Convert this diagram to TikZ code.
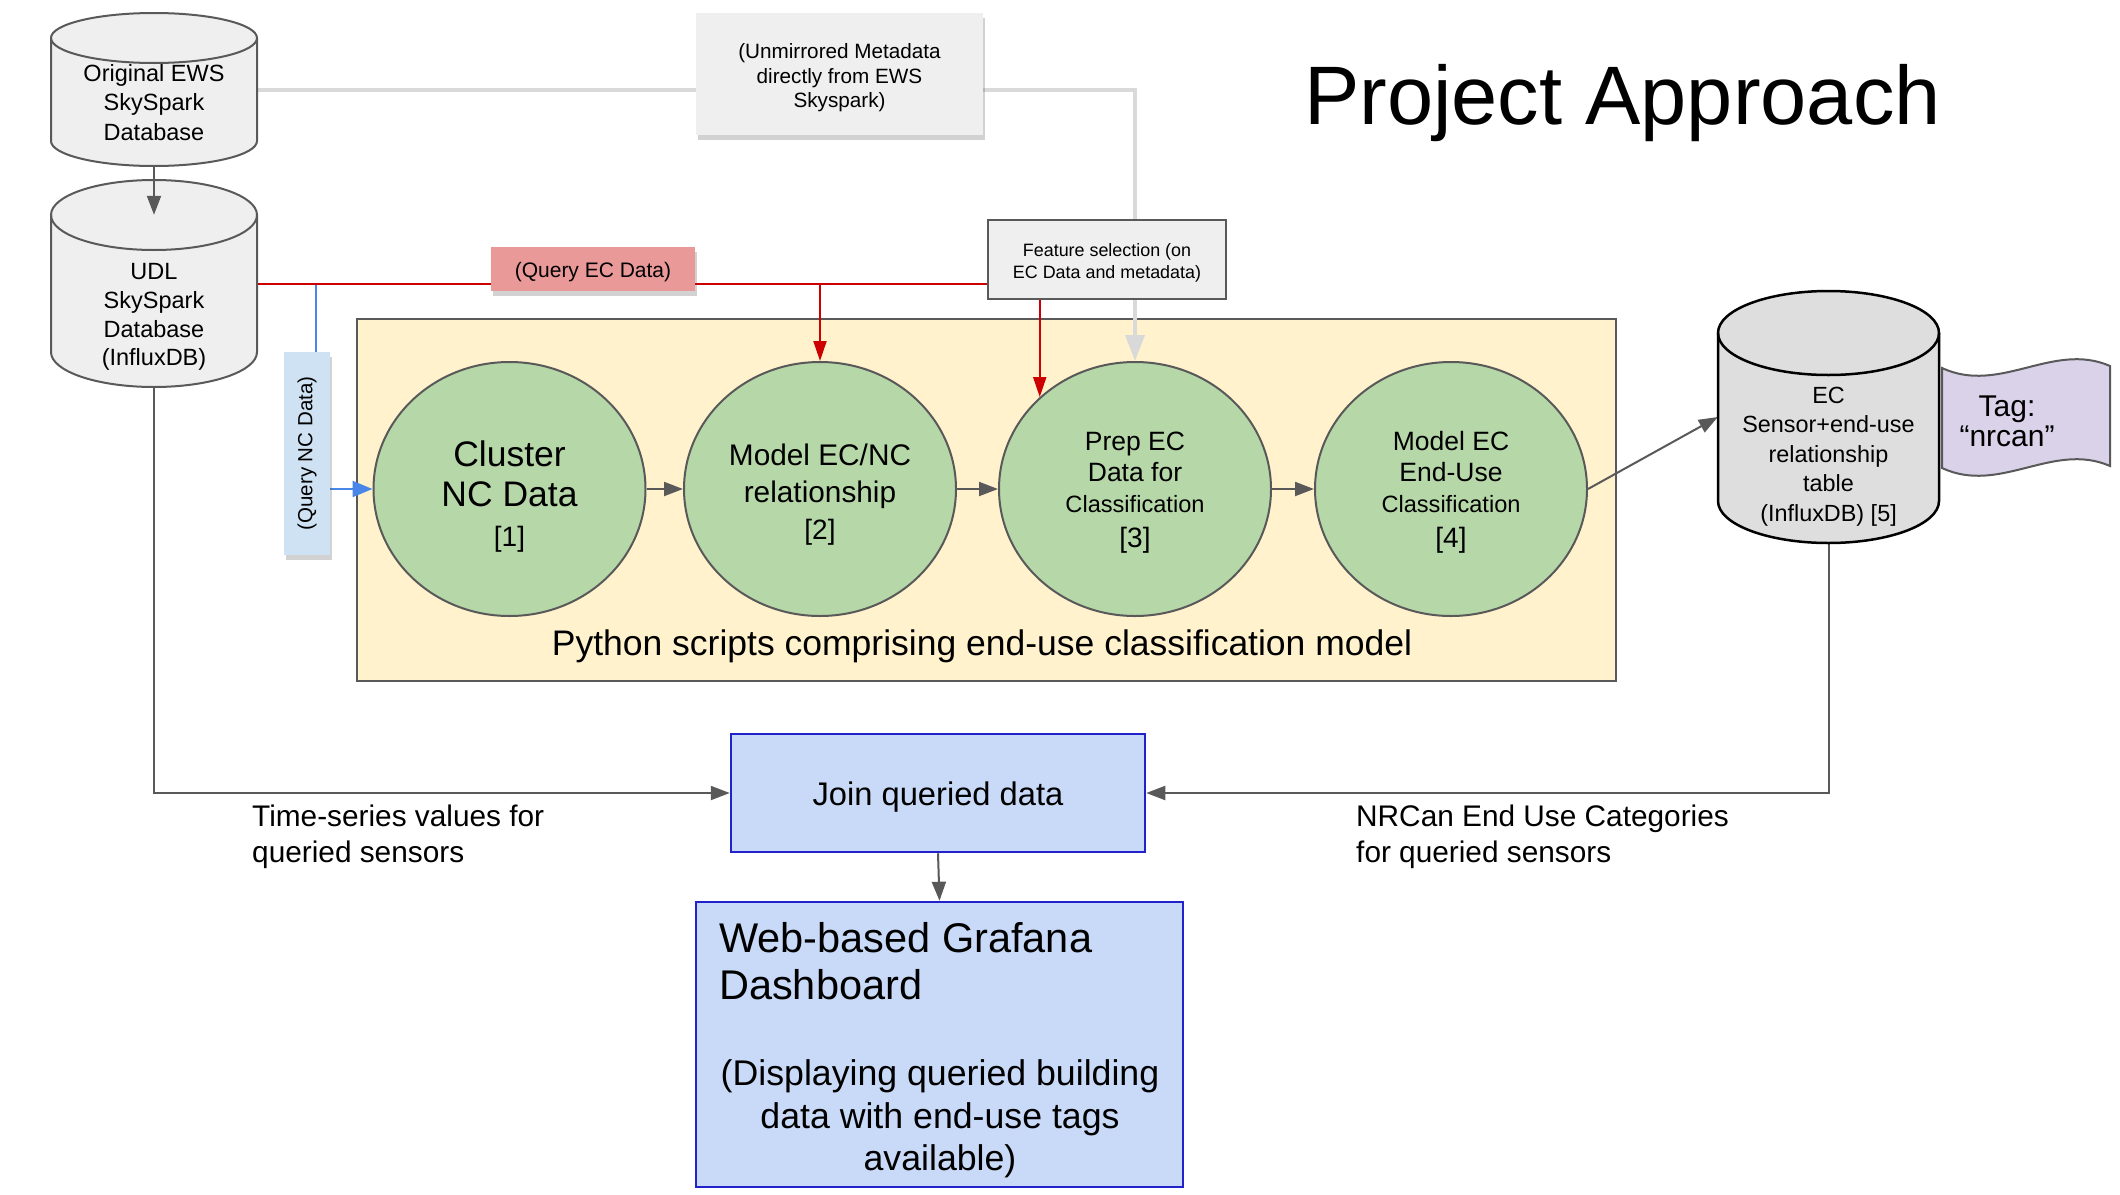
\documentclass[tikz,border=0pt]{standalone}
\usepackage{fontspec}
\setmainfont{Liberation Sans}
\usetikzlibrary{arrows.meta,shapes.geometric,shadows,calc}
\definecolor{dg}{HTML}{595959}
\definecolor{lg}{HTML}{EFEFEF}
\definecolor{cylg}{HTML}{DEDEDE}
\definecolor{mgl}{HTML}{D9D9D9}
\definecolor{redc}{HTML}{CC0000}
\definecolor{bluec}{HTML}{4A86E8}
\definecolor{bub}{HTML}{B6D7A8}
\definecolor{cont}{HTML}{FFF2CC}
\definecolor{bbf}{HTML}{C9DAF8}
\definecolor{bbd}{HTML}{2222CC}
\definecolor{pinkf}{HTML}{EA9999}
\definecolor{bluef}{HTML}{CFE2F3}
\definecolor{lav}{HTML}{D9D2E9}
\pgfdeclarelayer{back}
\pgfdeclarelayer{lines}
\pgfsetlayers{back,lines,main}
\newcommand\myfs[2]{\fontsize{#1}{#2}\selectfont}
\newcommand\lift[1]{\rule{0pt}{#1pt}}
\newcommand\dbcyl[6]{%
  \pgfmathsetmacro\cylrx{(#3-#1)/2}%
  \path[#6] (#1,#2+#5) -- (#1,#4-#5)
     arc[start angle=180,end angle=360,x radius=\cylrx pt,y radius=#5pt]
     -- (#3,#2+#5)
     arc[start angle=0,end angle=180,x radius=\cylrx pt,y radius=#5pt] -- cycle;
  \path[#6,fill=none] (#1,#2+#5)
     arc[start angle=180,end angle=360,x radius=\cylrx pt,y radius=#5pt];
}
\tikzset{
  txt/.style={inner sep=0pt, align=center, text=black},
  shadowed/.style={drop shadow={shadow xshift=1.5pt, shadow yshift=-4.5pt, opacity=0.25, fill=black!70}},
  bubble/.style={ellipse, draw=dg, line width=2pt, fill=bub, minimum width=272pt, minimum height=254pt, inner sep=0pt, align=center},
  container/.style={draw=dg, line width=2.5pt, fill=cont, inner sep=0pt},
  bluebox/.style={draw=bbd, line width=2.5pt, fill=bbf, inner sep=0pt, align=center},
  metabox/.style={fill=lg, inner sep=0pt, align=center, shadowed},
  featbox/.style={fill=lg, draw=dg, line width=2pt, inner sep=0pt, align=center},
  qecbox/.style={fill=pinkf, inner sep=0pt, align=center, shadowed},
  qncbox/.style={fill=bluef, inner sep=0pt, align=center, shadowed},
  anchorbox/.style={rectangle, inner sep=0pt},
  cylA/.style={fill=lg, draw=dg, line width=2pt},
  cylB/.style={fill=cylg, draw=black, line width=2.5pt},
  tagshape/.style={fill=lav, draw=dg, line width=2pt},
  garr/.style={draw=dg, line width=2pt, -{Triangle[length=19pt,width=14pt]}},
  metaline/.style={draw=mgl, line width=4pt, -{Triangle[length=26pt,width=19pt]}},
  redl/.style={draw=redc, line width=2pt},
  redarr/.style={redl, -{Triangle[length=20pt,width=13pt]}},
  bluel/.style={draw=bluec, line width=2pt, -{Triangle[length=20pt,width=16pt]}},
}
\begin{document}
\begin{tikzpicture}[x=1pt,y=-1pt]
\useasboundingbox (0,0) rectangle (2120,1194);
\begin{pgfonlayer}{back}
  \fill[white] (0,0) rectangle (2120,1194);
  \node[container, minimum width=1259pt, minimum height=362pt] (py) at (986.5,500) {};
\end{pgfonlayer}

% title
\node[txt, anchor=base, font=\myfs{83}{90}] (title) at (1622.5,124) {Project Approach};

% cylinders
\dbcyl{51}{13}{257}{166}{25}{cylA}
\dbcyl{51}{180}{257}{387}{35}{cylA}
\dbcyl{1718}{291}{1939}{543}{42}{cylB}
\node[anchorbox, minimum width=206pt, minimum height=153pt] (ews) at (154,89.5) {};
\node[anchorbox, minimum width=206pt, minimum height=207pt] (udl) at (154,283.5) {};
\node[anchorbox, minimum width=221pt, minimum height=252pt] (ec) at (1828.5,417) {};
\node[txt, font=\myfs{23.5}{29.5}] (ews-txt) at (154,102.3) {Original EWS\\SkySpark\\Database};
\node[txt, font=\myfs{23.5}{28.7}] (udl-txt) at (154,317) {UDL\\SkySpark\\Database\\(InfluxDB)};
\node[txt, font=\myfs{23.4}{29.5}] (ec-txt) at (1828.5,456.3) {EC\\Sensor+end-use\\relationship\\table\\(InfluxDB) [5]};
\draw[garr] (ews.south) -- ($(udl.north)+(0,35)$);

% tag
\path[tagshape] (1942,368) .. controls (2000,395) and (2053,341) .. (2110,366)
   -- (2110,466) .. controls (2053,441) and (2000,495) .. (1942,468) -- cycle;
\node[txt, font=\myfs{30}{30}] (tag-txt) at (2007,421.5) {Tag:\\“nrcan”};

% boxes
\node[metabox, minimum width=287pt, minimum height=122pt, font=\myfs{20.7}{24.5}] (meta) at (839.5,74)
  {\lift{23}(Unmirrored Metadata\\directly from EWS\\Skyspark)};
\node[featbox, minimum width=238pt, minimum height=79pt, font=\myfs{17.9}{22}] (feat) at (1107,259.5)
  {\lift{19}Feature selection (on\\EC Data and metadata)};
\node[qecbox, minimum width=204pt, minimum height=44pt, font=\myfs{21}{25}] (qec) at (593,269)
  {\lift{21}(Query EC Data)};
\node[qncbox, minimum width=46pt, minimum height=203pt, font=\myfs{20.5}{24}] (qnc) at (307,453.5)
  {\rotatebox{90}{(Query NC Data)}};
\coordinate (qtap) at ($(qnc.center)+(9,0)$);

% ellipses
\node[bubble, font=\myfs{35.5}{40}] (c1) at (509.5,489) {\lift{40}Cluster\\NC Data\\ \myfs{28}{40}[1]};
\node[bubble, font=\myfs{29.8}{37}] (c2) at (820,489) {\lift{32}Model EC/NC\\relationship\\ \myfs{28}{37}[2]};
\node[bubble, font=\myfs{26.5}{31}] (c3) at (1135,489) {\lift{26}Prep EC\\Data for\\ \myfs{23.6}{31}Classification\\[4pt] \myfs{28}{31}[3]};
\node[bubble, font=\myfs{26.5}{31}] (c4) at (1451,489) {\lift{26}Model EC\\End-Use\\ \myfs{23.6}{31}Classification\\[4pt] \myfs{28}{31}[4]};
\node[txt, font=\myfs{35.5}{40}] (py-txt) at (982,646) {Python scripts comprising end-use classification model};

% bottom
\node[bluebox, minimum width=414pt, minimum height=118pt, font=\myfs{32.7}{38}] (join) at (938,793) {\lift{32}Join queried data};
\node[bluebox, minimum width=487pt, minimum height=285pt] (graf) at (939.5,1044.5) {};
\node[txt, anchor=north west, align=left, font=\myfs{41.5}{47}] (graf-title) at (719,922) {Web-based Grafana\\Dashboard};
\node[txt, font=\myfs{35.7}{42.5}] (graf-desc) at (940,1119) {(Displaying queried building\\data with end-use tags\\available)};
\node[txt, anchor=north west, align=left, font=\myfs{29.8}{36}] (lbl-ts) at (252,805) {Time-series values for\\queried sensors};
\node[txt, anchor=north west, align=left, font=\myfs{29.8}{36}] (lbl-nr) at (1356,805) {NRCan End Use Categories\\for queried sensors};

% connectors
\begin{pgfonlayer}{lines}
  \draw[metaline] (ews.east) -| (c3.north);
  \draw[bluel] (udl.east) -- (udl.east -| qtap) -- (qtap |- c1.west) -- (c1.west);
  \draw[redl] (udl.east) -- (udl.east -| feat.west);
  \draw[redarr] (udl.east -| c2.north) -- (c2.north);
  \draw[redarr] (c3.136 |- feat.south) -- (c3.136);
  \draw[garr] (c1.east) -- (c2.west);
  \draw[garr] (c2.east) -- (c3.west);
  \draw[garr] (c3.east) -- (c4.west);
  \draw[garr] (c4.east) -- (ec.west);
  \draw[garr] (udl.south) |- (join.west);
  \draw[garr] (ec.south) |- (join.east);
  \draw[garr] (join.south) -- (graf.north);
\end{pgfonlayer}
\end{tikzpicture}
\end{document}
